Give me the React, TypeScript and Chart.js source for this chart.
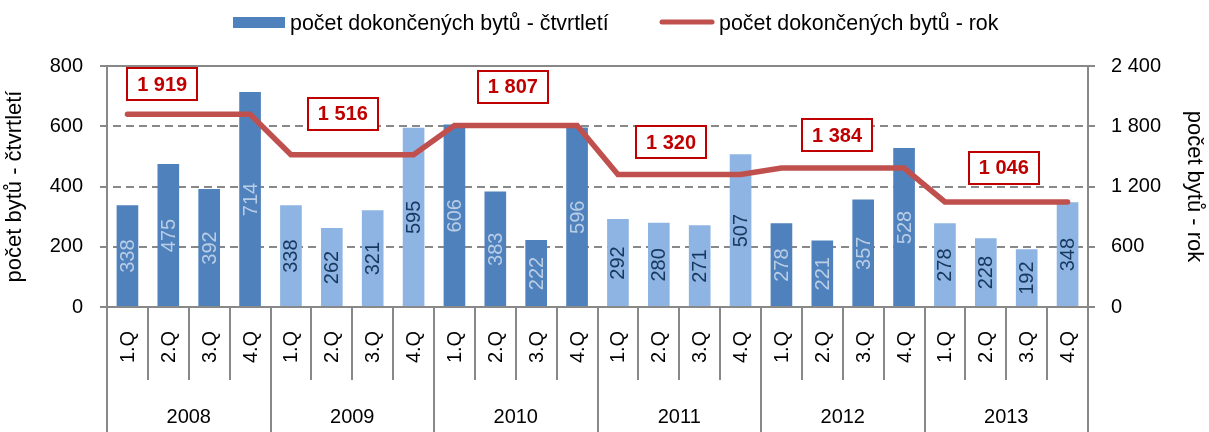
import React, { useEffect, useRef } from 'react';
import { Chart, registerables } from 'chart.js';

Chart.register(...registerables);

// ---------- data ----------
const years = ['2008', '2009', '2010', '2011', '2012', '2013'];
const quarters = ['1.Q', '2.Q', '3.Q', '4.Q'];
const quarterlyValues = [
  338, 475, 392, 714,
  338, 262, 321, 595,
  606, 383, 222, 596,
  292, 280, 271, 507,
  278, 221, 357, 528,
  278, 228, 192, 348,
];
const annualValues = [1919, 1516, 1807, 1320, 1384, 1046];
const leftTicks = [0, 200, 400, 600, 800];
const rightTicks = [0, 600, 1200, 1800, 2400];
const seriesNames = ['počet dokončených bytů - čtvrtletí', 'počet dokončených bytů - rok'];
const axisTitles = ['počet bytů - čtvrtletí', 'počet bytů - rok'];

// ---------- style / layout ----------
const FONT = '"Liberation Sans", Arial, Helvetica, sans-serif';
const DARK = '#4F81BD';
const LIGHT = '#8DB4E2';
const DARK_TEXT = '#B9CDE5';
const LIGHT_TEXT = '#17375E';
const RED = '#C0504D';
const BOX_RED = '#C00000';
const GRID = '#888888';
// annotation placement (category index, pixel offset from line)
const boxAnchorIndex = [0.85, 5.27, 9.43, 13.3, 17.36, 21.44];
const boxOffsetY = [-30, -41, -39, -32, -33, -34];

const fmt = (n: number) => String(n).replace(/\B(?=(\d{3})+(?!\d))/g, ' ');

const labels = years.flatMap((y) => quarters.map((q) => `${q} ${y}`));
const barColors = quarterlyValues.map((_, i) => (Math.floor(i / 4) % 2 === 0 ? DARK : LIGHT));
const annualPerQuarter = annualValues.flatMap((v) => quarters.map(() => v));

const customPlugin = {
  id: 'customDraw',
  beforeDatasetsDraw(chart: any) {
    const { ctx, chartArea } = chart;
    const { left, right } = chartArea;
    const y = chart.scales.y;
    ctx.save();
    ctx.strokeStyle = GRID;
    ctx.lineWidth = 2;
    ctx.setLineDash([8, 5]);
    leftTicks.forEach((v) => {
      if (v === leftTicks[0] || v === leftTicks[leftTicks.length - 1]) return;
      const py = Math.round(y.getPixelForValue(v));
      ctx.beginPath();
      ctx.moveTo(left - 7, py);
      ctx.lineTo(right + 7, py);
      ctx.stroke();
    });
    ctx.restore();
  },
  afterDatasetsDraw(chart: any) {
    const { ctx, chartArea } = chart;
    const { left, right, top, bottom } = chartArea;
    const x = chart.scales.x;
    const y2 = chart.scales.y2;
    const H = chart.height;

    ctx.save();
    // solid axis lines
    ctx.strokeStyle = GRID;
    ctx.lineWidth = 2;
    ctx.setLineDash([]);
    const hline = (py: number) => {
      ctx.beginPath();
      ctx.moveTo(left - 7, py);
      ctx.lineTo(right + 7, py);
      ctx.stroke();
    };
    hline(Math.round(top));
    hline(Math.round(bottom));
    const vline = (px: number, y0: number, y1: number) => {
      ctx.beginPath();
      ctx.moveTo(px, y0);
      ctx.lineTo(px, y1);
      ctx.stroke();
    };
    vline(Math.round(left), top, H);
    vline(Math.round(right), top, H);
    for (let k = 1; k < labels.length; k++) {
      const px = Math.round((x.getPixelForValue(k - 1) + x.getPixelForValue(k)) / 2);
      vline(px, bottom, k % 4 === 0 ? H : bottom + 73);
    }

    // bar value labels
    const barMeta = chart.getDatasetMeta(0);
    ctx.font = `20px ${FONT}`;
    ctx.textAlign = 'center';
    ctx.textBaseline = 'middle';
    barMeta.data.forEach((el: any, i: number) => {
      const cy = (el.y + el.base) / 2;
      ctx.save();
      ctx.translate(el.x, cy);
      ctx.rotate(-Math.PI / 2);
      ctx.fillStyle = Math.floor(i / 4) % 2 === 0 ? DARK_TEXT : LIGHT_TEXT;
      ctx.fillText(String(quarterlyValues[i]), 0, 1);
      ctx.restore();
    });

    // quarter labels
    ctx.fillStyle = '#000';
    labels.forEach((_, i) => {
      ctx.save();
      ctx.translate(x.getPixelForValue(i), bottom + 40);
      ctx.rotate(-Math.PI / 2);
      ctx.fillText(quarters[i % 4], 0, 1);
      ctx.restore();
    });
    // year labels
    years.forEach((yr, k) => {
      const cx = (x.getPixelForValue(k * 4) + x.getPixelForValue(k * 4 + 3)) / 2;
      ctx.fillText(yr, cx, bottom + 110);
    });

    // annual value boxes
    ctx.font = `bold 20px ${FONT}`;
    annualValues.forEach((v, k) => {
      const cx = x.getPixelForValue(boxAnchorIndex[k]);
      const cy = y2.getPixelForValue(v) + boxOffsetY[k];
      const txt = fmt(v);
      const w = ctx.measureText(txt).width + 20;
      const h = 32;
      ctx.fillStyle = '#fff';
      ctx.fillRect(cx - w / 2, cy - h / 2, w, h);
      ctx.strokeStyle = BOX_RED;
      ctx.lineWidth = 2;
      ctx.strokeRect(Math.round(cx - w / 2), Math.round(cy - h / 2), Math.round(w), h);
      ctx.fillStyle = BOX_RED;
      ctx.fillText(txt, cx, cy + 1);
    });

    // legend
    ctx.font = `21.4px ${FONT}`;
    ctx.textAlign = 'left';
    ctx.textBaseline = 'alphabetic';
    ctx.fillStyle = DARK;
    ctx.fillRect(233, 17, 52, 11);
    ctx.fillStyle = '#000';
    ctx.fillText(seriesNames[0], 290, 30);
    ctx.strokeStyle = RED;
    ctx.lineWidth = 5;
    ctx.lineCap = 'round';
    ctx.beginPath();
    ctx.moveTo(662, 22);
    ctx.lineTo(712, 22);
    ctx.stroke();
    ctx.fillText(seriesNames[1], 719, 30);
    ctx.restore();
  },
};

export default function App() {
  const ref = useRef<HTMLCanvasElement>(null);
  useEffect(() => {
    document.body.style.margin = '0';
    const chart = new Chart(ref.current as HTMLCanvasElement, {
      type: 'bar',
      data: {
        labels,
        datasets: [
          {
            type: 'bar',
            label: seriesNames[0],
            data: quarterlyValues,
            backgroundColor: barColors,
            yAxisID: 'y',
            barPercentage: 0.53,
            categoryPercentage: 1,
            order: 2,
          } as any,
          {
            type: 'line',
            label: seriesNames[1],
            data: annualPerQuarter,
            borderColor: RED,
            borderWidth: 5.5,
            borderCapStyle: 'round',
            pointRadius: 0,
            tension: 0,
            yAxisID: 'y2',
            order: 1,
          } as any,
        ],
      },
      options: {
        responsive: false,
        animation: false,
        devicePixelRatio: 1,
        layout: { padding: { top: 66, bottom: 125, left: 0, right: 0 } },
        plugins: { legend: { display: false }, tooltip: { enabled: false } },
        scales: {
          x: { display: false },
          y: {
            position: 'left',
            min: leftTicks[0],
            max: leftTicks[leftTicks.length - 1],
            afterBuildTicks: (s: any) => {
              s.ticks = leftTicks.map((v) => ({ value: v }));
            },
            grid: { display: false, drawTicks: false },
            border: { display: false },
            ticks: { font: { size: 20, family: FONT }, color: '#000', padding: 24 },
            title: {
              display: true,
              text: axisTitles[0],
              font: { size: 22, family: FONT },
              color: '#000',
              padding: { top: 2, bottom: 2 },
            },
            afterFit: (s: any) => {
              s.width = 107;
            },
          },
          y2: {
            position: 'right',
            min: rightTicks[0],
            max: rightTicks[rightTicks.length - 1],
            afterBuildTicks: (s: any) => {
              s.ticks = rightTicks.map((v) => ({ value: v }));
            },
            grid: { display: false, drawTicks: false },
            border: { display: false },
            ticks: {
              font: { size: 20, family: FONT },
              color: '#000',
              padding: 23,
              callback: (v: any) => fmt(Number(v)),
            },
            title: {
              display: true,
              text: axisTitles[1],
              font: { size: 22, family: FONT },
              color: '#000',
              padding: { top: 2, bottom: 2 },
            },
            afterFit: (s: any) => {
              s.width = 121;
            },
          },
        } as any,
      },
      plugins: [customPlugin],
    } as any);
    return () => chart.destroy();
  }, []);
  return (
    <div style={{ width: 1209, height: 432 }}>
      <canvas ref={ref} width={1209} height={432} style={{ display: 'block' }} />
    </div>
  );
}
